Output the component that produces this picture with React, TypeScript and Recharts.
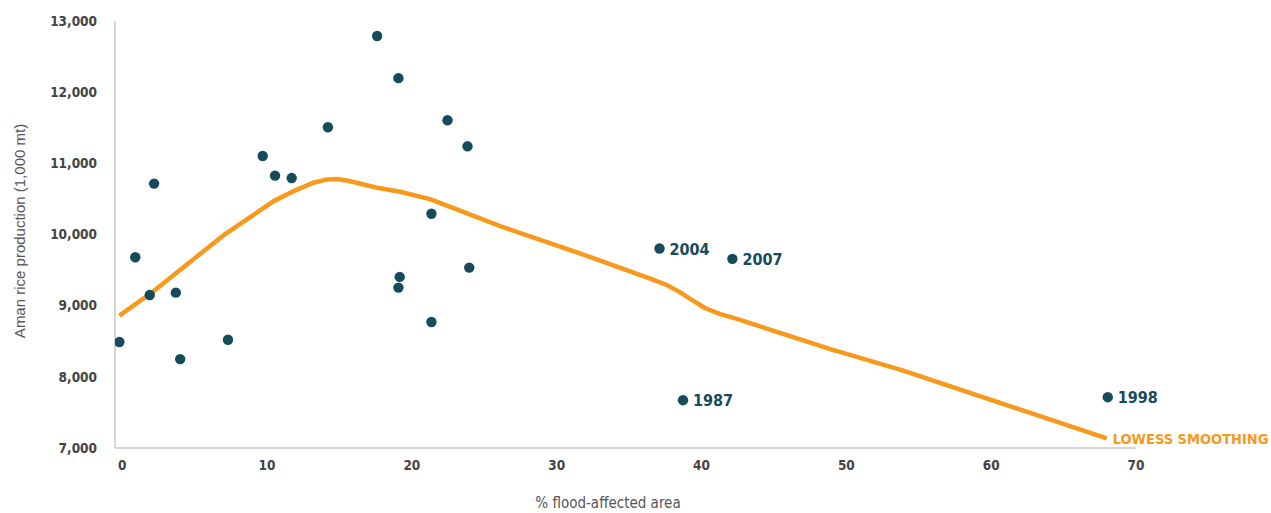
import React from 'react';
import { ComposedChart, Scatter, Line, XAxis, YAxis, LabelList, Label } from 'recharts';

const floodPct = [-0.2, 0.9, 1.9, 2.2, 3.7, 4.0, 7.3, 9.7, 10.55, 11.7, 14.2, 17.6, 19.07, 19.07, 19.16, 21.35, 21.35, 22.46, 23.84, 23.96, 37.1, 42.13, 38.72, 68.05];
const production = [8490, 9680, 9150, 10715, 9183, 8249, 8521, 11103, 10827, 10793, 11507, 12789, 12197, 9254, 9404, 10291, 8770, 11606, 11239, 9535, 9803, 9658, 7672, 7714];
const yearLabels = ['', '', '', '', '', '', '', '', '', '', '', '', '', '', '', '', '', '', '', '', '2004', '2007', '1987', '1998'];

const lowessX = [-0.2, 1.94, 7.0, 10.46, 11.84, 13.2, 14.0, 14.8, 15.6, 17.6, 19.2, 21.3, 26.1, 31.65, 36.6, 37.6, 38.5, 39.4, 40.3, 41.3, 42.5, 48.9, 53.77, 67.98];
const lowessY = [8859, 9169, 9990, 10469, 10610, 10728, 10768, 10780, 10755, 10657, 10601, 10493, 10117, 9732, 9370, 9290, 9190, 9070, 8960, 8880, 8810, 8390, 8099, 7136];

const xTicks = [0, 10, 20, 30, 40, 50, 60, 70];
const yTicks = [7000, 8000, 9000, 10000, 11000, 12000, 13000];

const points = floodPct.map((x, i) => ({ x, y: production[i], label: yearLabels[i] }));
const lowess = lowessX.map((x, i) => ({ x, y: lowessY[i] }));

const condensed = "'DejaVu Sans Condensed', 'Open Sans', sans-serif";
const dotColor = '#164b5c';
const orange = '#f7991c';

const fmt = (v: number) => v.toLocaleString('en-US');

const YearLabel = (props: any) => {
  const { x, y, width, height, value } = props;
  if (!value) return null;
  const cx = x + (width || 0) / 2;
  const cy = y + (height || 0) / 2;
  return (
    <text x={cx + 10} y={cy + 6} fill={dotColor} fontSize={16} fontWeight="bold" fontFamily={condensed}>
      {value}
    </text>
  );
};

const LowessLabel = (props: any) => {
  const { x, y, index } = props;
  if (index !== lowess.length - 1) return null;
  return (
    <text x={x + 6} y={y + 6} fill={orange} fontSize={14.5} fontWeight="bold" fontFamily={condensed}>
      LOWESS SMOOTHING
    </text>
  );
};

export default function App() {
  return (
    <div style={{ position: 'absolute', left: 0, top: 0 }}>
      <ComposedChart width={1271} height={513} margin={{ top: 21, right: 135, bottom: 0, left: 0 }}>
        <XAxis
          type="number"
          dataKey="x"
          domain={[-0.5, 70]}
          ticks={xTicks}
          allowDataOverflow
          height={65}
          tickLine={false}
          tickMargin={6}
          axisLine={{ stroke: '#c8c8c8', strokeWidth: 1.5 }}
          tick={{ fill: '#444', fontSize: 13.5, fontWeight: 'bold', fontFamily: condensed }}
        >
          <Label
            content={() => (
              <text x={608} y={508} textAnchor="middle" fill="#555" fontSize={15} fontFamily={condensed}>
                % flood-affected area
              </text>
            )}
          />
        </XAxis>
        <YAxis
          type="number"
          dataKey="y"
          domain={[7000, 13000]}
          ticks={yTicks}
          allowDataOverflow
          width={115}
          tickLine={false}
          tickMargin={12}
          tickFormatter={fmt}
          axisLine={{ stroke: '#c8c8c8', strokeWidth: 1.5 }}
          tick={{ fill: '#444', fontSize: 13.5, fontWeight: 'bold', fontFamily: condensed }}
        >
          <Label
            content={() => (
              <text
                x={25}
                y={231}
                transform="rotate(-90 25 231)"
                textAnchor="middle"
                fill="#555"
                fontSize={15}
                fontFamily="'Liberation Sans', Arial, sans-serif"
              >
                Aman rice production (1,000 mt)
              </text>
            )}
          />
        </YAxis>
        <Line
          data={lowess}
          dataKey="y"
          type="linear"
          stroke={orange}
          strokeWidth={4.5}
          strokeLinejoin="round"
          dot={false}
          activeDot={false}
          isAnimationActive={false}
        >
          <LabelList dataKey="y" content={LowessLabel} />
        </Line>
        <Scatter
          data={points}
          dataKey="y"
          fill={dotColor}
          shape={(p: any) => <circle cx={p.cx} cy={p.cy} r={5.2} fill={dotColor} />}
          isAnimationActive={false}
        >
          <LabelList dataKey="label" content={YearLabel} />
        </Scatter>
      </ComposedChart>
    </div>
  );
}
